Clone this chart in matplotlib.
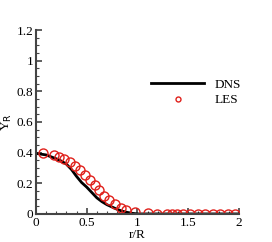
import numpy as np
import matplotlib.pyplot as plt
from matplotlib.ticker import MultipleLocator

plt.rcParams['font.family'] = ['Liberation Serif', 'DejaVu Serif']

# DNS profile
dns_r = [0.0, 0.1, 0.2, 0.25, 0.3, 0.35, 0.4, 0.45, 0.5, 0.55, 0.6, 0.65, 0.7, 0.75,
         0.8, 0.85, 0.9, 0.95, 1.0, 1.2, 1.5, 2.0]
dns_y = [0.395, 0.385, 0.36, 0.345, 0.325, 0.29, 0.245, 0.205, 0.175, 0.14, 0.105, 0.08,
         0.06, 0.045, 0.03, 0.018, 0.01, 0.004, 0.0, 0.0, 0.0, 0.0]

# LES points
les_r = [0.07, 0.18, 0.23, 0.28, 0.335, 0.385, 0.435, 0.485, 0.53, 0.58, 0.625, 0.67,
         0.72, 0.78, 0.835, 0.885, 0.98, 1.1, 1.19, 1.29, 1.34, 1.39, 1.45, 1.52,
         1.6, 1.66, 1.74, 1.81, 1.89, 1.96]
les_y = [0.40, 0.385, 0.37, 0.357, 0.337, 0.315, 0.287, 0.254, 0.222, 0.189, 0.157, 0.12,
         0.091, 0.065, 0.039, 0.026, 0.01, 0.003, 0.002, 0.001, 0.001, 0.001, 0.001, 0.001,
         0.001, 0.001, 0.001, 0.001, 0.001, 0.001]

xticks = [0, 0.5, 1, 1.5, 2]
xtick_labels = ['0', '0.5', '1', '1.5', '2']
yticks = [0, 0.2, 0.4, 0.6, 0.8, 1, 1.2]
ytick_labels = ['0', '0.2', '0.4', '0.6', '0.8', '1', '1.2']

fig = plt.figure(figsize=(2.72, 2.42), dpi=100)
ax = fig.add_axes([0.132, 0.116, 0.747, 0.76])

ax.plot(dns_r, dns_y, color='black', lw=2, label='DNS')
ax.plot(les_r, les_y, 'o', mfc='none', mec='#e0201b', ms=6.5, mew=1, label='LES')

ax.set_xlim(0, 2)
ax.set_ylim(0, 1.2)
ax.set_xticks(xticks, xtick_labels)
ax.set_yticks(yticks, ytick_labels)
ax.xaxis.set_minor_locator(MultipleLocator(0.1))
ax.yaxis.set_minor_locator(MultipleLocator(0.05))

for s in ['top', 'right']:
    ax.spines[s].set_visible(False)
for s in ['left', 'bottom']:
    ax.spines[s].set_color('#444444')
    ax.spines[s].set_linewidth(1.5)
ax.tick_params(which='both', direction='in', colors='#444444', labelcolor='black',
               labelsize=9.5, pad=2)
ax.tick_params(which='major', length=4, width=1.2)
ax.tick_params(which='minor', length=2, width=0.8)

ax.set_xlabel('r/R', fontsize=9.5, labelpad=0)
ax.set_ylabel(r'Y$_{\rm R}$', fontsize=9.5, labelpad=2)

ax.legend(loc='center left', bbox_to_anchor=(0.51, 0.66), frameon=False, fontsize=9.5,
          handlelength=4, markerscale=0.55, handletextpad=0.8, labelspacing=0.25)

fig.savefig('out.png', dpi=100)
